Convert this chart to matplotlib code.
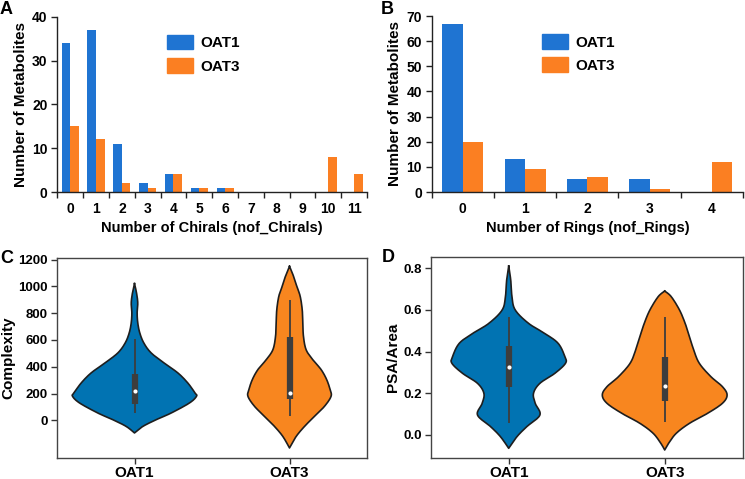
import numpy as np
import matplotlib
matplotlib.use("Agg")
import matplotlib.pyplot as plt
from matplotlib.patches import Patch

plt.rcParams['font.family'] = ['Liberation Sans', 'DejaVu Sans']
plt.rcParams['font.weight'] = 'bold'

# ---------------- data ----------------
chiral_cats = ['0', '1', '2', '3', '4', '5', '6', '7', '8', '9', '10', '11']
chiral_oat1 = [34, 37, 11, 2, 4, 1, 1, 0, 0, 0, 0, 0]
chiral_oat3 = [15, 12, 2, 1, 4, 1, 1, 0, 0, 0, 8, 4]

ring_cats = ['0', '1', '2', '3', '4']
ring_oat1 = [67, 13, 5, 5, 0]
ring_oat3 = [20, 9, 6, 1, 12]

groups = ['OAT1', 'OAT3']

# violin outlines: value levels and half-widths
cx_oat1_y = [1021, 952, 877, 802, 728, 653, 578, 504, 429, 354, 279, 205, 180, 130, 55, 5, -45, -94]
cx_oat1_w = [0.0, 0.013, 0.021, 0.017, 0.021, 0.034, 0.06, 0.107, 0.19, 0.28, 0.344, 0.39, 0.40, 0.355, 0.237, 0.14, 0.054, 0.0]
cx_oat3_y = [1150, 1076, 1001, 926, 827, 728, 628, 528, 453, 379, 304, 229, 179, 105, 30, -45, -120, -206]
cx_oat3_w = [0.0, 0.026, 0.047, 0.069, 0.082, 0.086, 0.09, 0.107, 0.15, 0.204, 0.24, 0.262, 0.268, 0.226, 0.161, 0.097, 0.043, 0.0]
# box stats: whisker low, q1, median, q3, whisker high
cx_box = [[55, 125, 222, 349, 608], [30, 160, 207, 623, 902]]

psa_oat1_y = [0.811, 0.744, 0.664, 0.60, 0.536, 0.488, 0.44, 0.376, 0.344, 0.296, 0.248, 0.20, 0.152, 0.096, 0.04, -0.008, -0.064]
psa_oat1_w = [0.0, 0.013, 0.021, 0.042, 0.127, 0.23, 0.317, 0.36, 0.364, 0.296, 0.20, 0.159, 0.17, 0.20, 0.116, 0.053, 0.0]
psa_oat3_y = [0.691, 0.664, 0.60, 0.536, 0.472, 0.408, 0.344, 0.28, 0.232, 0.192, 0.152, 0.104, 0.056, 0.008, -0.04, -0.072]
psa_oat3_w = [0.0, 0.042, 0.095, 0.131, 0.159, 0.186, 0.222, 0.296, 0.37, 0.40, 0.37, 0.275, 0.159, 0.074, 0.025, 0.0]
psa_box = [[0.056, 0.232, 0.325, 0.427, 0.565], [0.064, 0.165, 0.235, 0.373, 0.565]]

# ---------------- style ----------------
BAR_BLUE = '#1f74d2'
BAR_ORANGE = '#fb7f22'
VIO_BLUE = '#0173b2'
VIO_ORANGE = '#f8861f'
W, H = 745, 479

fig = plt.figure(figsize=(W / 100, H / 100), dpi=100)


def ax_px(l, t, r, b):
    return fig.add_axes([l / W, 1 - b / H, (r - l) / W, (b - t) / H])


def bar_panel(ax, cats, v1, v3, ymax, ystep, xlabel):
    x = np.arange(len(cats))
    bw = 0.33
    ax.bar(x - bw / 2, v1, bw, color=BAR_BLUE, label='OAT1')
    ax.bar(x + bw / 2, v3, bw, color=BAR_ORANGE, label='OAT3')
    ax.set_xlim(-0.5, len(cats) - 0.5)
    ax.set_ylim(0, ymax)
    ax.set_yticks(np.arange(0, ymax + 1, ystep))
    ax.set_xticks(np.arange(len(cats) + 1) - 0.5)
    ax.set_xticklabels([])
    ax.set_xticks(x, minor=True)
    ax.set_xticklabels(cats, minor=True)
    ax.tick_params(axis='x', which='major', direction='out', length=4, width=1, color='#222222')
    ax.tick_params(axis='x', which='minor', length=0, pad=7, labelsize=10)
    ax.tick_params(axis='y', direction='out', length=4, width=1, color='#222222', labelsize=10, pad=3)
    for s in ['top', 'right']:
        ax.spines[s].set_visible(False)
    for s in ['left', 'bottom']:
        ax.spines[s].set_color('#222222')
        ax.spines[s].set_linewidth(1.0)
    ax.set_xlabel(xlabel, fontsize=10.5, fontweight='bold', labelpad=4)
    ax.set_ylabel('Number of Metabolites', fontsize=11, fontweight='bold', labelpad=3)
    handles = [Patch(color=BAR_BLUE), Patch(color=BAR_ORANGE)]
    ax.legend(handles, groups, loc='upper left', bbox_to_anchor=(0.31, 0.975), frameon=False,
              prop={'weight': 'bold', 'size': 11}, handlelength=1.7, handleheight=1.1,
              handletextpad=0.5, labelspacing=0.5)


def catmull(y, w, n=12):
    y = np.asarray(y, float)
    w = np.asarray(w, float)
    P = np.column_stack([y, w])
    P = np.vstack([P[0], P, P[-1]])
    out = []
    for i in range(1, len(P) - 2):
        p0, p1, p2, p3 = P[i - 1], P[i], P[i + 1], P[i + 2]
        t = np.linspace(0, 1, n, endpoint=False)[:, None]
        seg = 0.5 * ((2 * p1) + (-p0 + p2) * t + (2 * p0 - 5 * p1 + 4 * p2 - p3) * t ** 2
                     + (-p0 + 3 * p1 - 3 * p2 + p3) * t ** 3)
        out.append(seg)
    out.append(P[-2][None, :])
    out = np.vstack(out)
    out[:, 1] = np.clip(out[:, 1], 0, None)
    return out[:, 0], out[:, 1]


def violin_panel(ax, profiles, boxes, ylim, yticks, yfmt, ylabel):
    colors = [VIO_BLUE, VIO_ORANGE]
    for i, ((py, pw), bx, c) in enumerate(zip(profiles, boxes, colors)):
        yy, ww = catmull(py, pw)
        ax.fill_betweenx(yy, i - ww, i + ww, facecolor=c, edgecolor='none', zorder=2)
        xs = np.concatenate([i - ww, (i + ww)[::-1], [i - ww[0]]])
        ys = np.concatenate([yy, yy[::-1], [yy[0]]])
        ax.plot(xs, ys, color='#1e1e1e', lw=1.2, zorder=3)
        lo, q1, med, q3, hi = bx
        ax.plot([i, i], [lo, hi], color='#3d3d3d', lw=1.3, zorder=4, solid_capstyle='butt')
        ax.plot([i, i], [q1, q3], color='#3d3d3d', lw=4.5, zorder=5, solid_capstyle='butt')
        ax.scatter([i], [med], s=9, color='white', zorder=6, linewidths=0)
    ax.set_xlim(-0.5, 1.5)
    ax.set_ylim(*ylim)
    ax.set_xticks([0, 1])
    ax.set_xticklabels(groups, fontsize=11, fontweight='bold')
    ax.set_yticks(yticks)
    ax.set_yticklabels([yfmt.format(v) for v in yticks], fontsize=9.5)
    ax.tick_params(direction='out', length=4, width=1, color='#333333')
    ax.tick_params(axis='x', pad=1.5)
    ax.tick_params(axis='y', pad=2.5)
    for s in ax.spines.values():
        s.set_color('#444444')
        s.set_linewidth(1.0)
    ax.set_ylabel(ylabel, fontsize=11, fontweight='bold', labelpad=2)


axA = ax_px(57.3, 16.7, 367, 192)
bar_panel(axA, chiral_cats, chiral_oat1, chiral_oat3, 40, 10, 'Number of Chirals (nof_Chirals)')
axB = ax_px(431.7, 16.0, 743, 192)
bar_panel(axB, ring_cats, ring_oat1, ring_oat3, 70, 10, 'Number of Rings (nof_Rings)')

axC = ax_px(57, 258, 367, 458)
violin_panel(axC, [(cx_oat1_y, cx_oat1_w), (cx_oat3_y, cx_oat3_w)], cx_box,
             (-281, 1212), [0, 200, 400, 600, 800, 1000, 1200], '{:.0f}', 'Complexity')
axD = ax_px(430.7, 257.3, 742.7, 458.3)
violin_panel(axD, [(psa_oat1_y, psa_oat1_w), (psa_oat3_y, psa_oat3_w)], psa_box,
             (-0.112, 0.853), [0.0, 0.2, 0.4, 0.6, 0.8], '{:.1f}', 'PSA/Area')

for lab, (x, y) in zip('ABCD', [(0, 1), (381, 1), (0, 250), (382, 249)]):
    fig.text(x / W, 1 - y / H, lab, fontsize=13, fontweight='bold', ha='left', va='top')

fig.savefig('out.png', dpi=100)
